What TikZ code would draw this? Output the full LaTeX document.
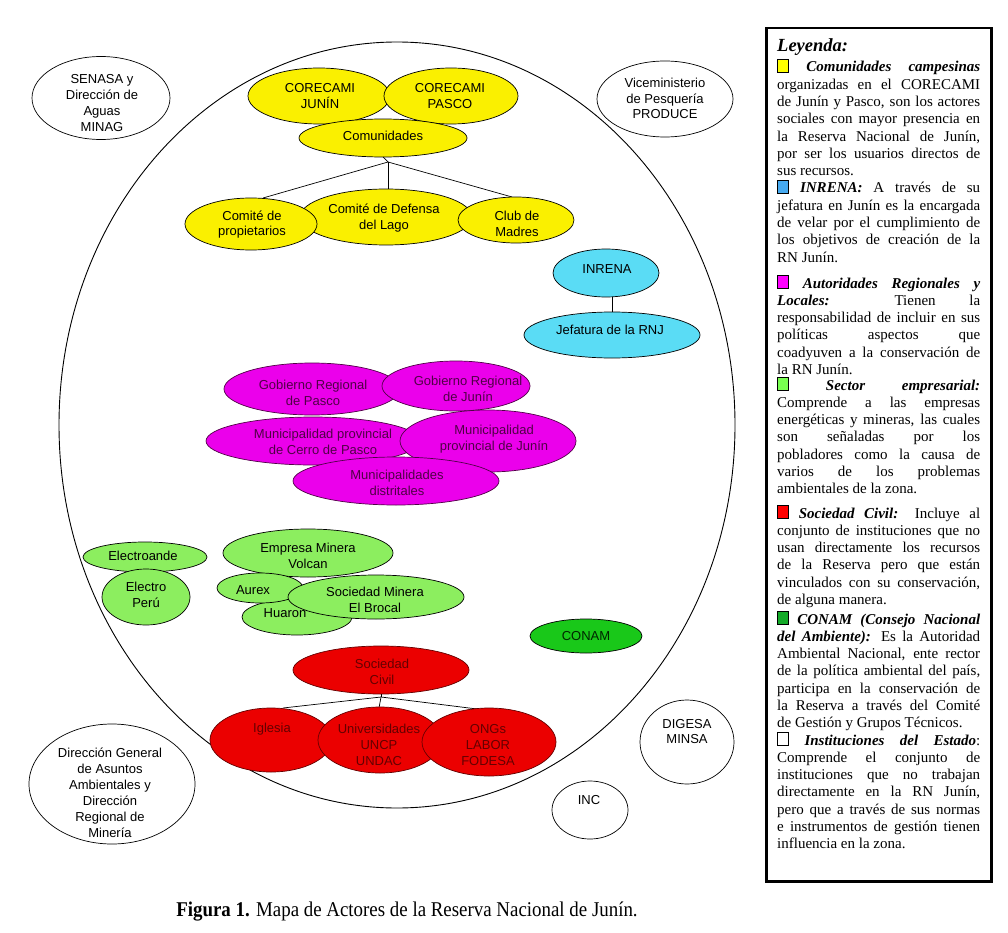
\documentclass[tikz,border=0pt]{standalone}
\usepackage{fontspec}
\setmainfont{Liberation Serif}
\newfontfamily\arialf{Liberation Sans}
\usetikzlibrary{shapes.geometric,calc}
\definecolor{yel}{RGB}{250,240,0}
\definecolor{cya}{RGB}{90,220,245}
\definecolor{mag}{RGB}{235,0,235}
\definecolor{lgr}{RGB}{140,238,95}
\definecolor{dgr}{RGB}{25,200,25}
\definecolor{rd}{RGB}{235,0,0}
\definecolor{magtxt}{RGB}{80,0,70}
\definecolor{redtxt}{RGB}{100,0,0}
\definecolor{lyel}{RGB}{255,255,0}
\definecolor{lblu}{RGB}{70,170,240}
\definecolor{lmag}{RGB}{255,0,255}
\definecolor{llg}{RGB}{120,255,80}
\definecolor{lred}{RGB}{255,0,0}
\definecolor{lgrn}{RGB}{20,170,40}
\newcommand\lsq[1]{\rlap{\color{black}\rule[-1pt]{12pt}{14pt}}\hspace{0.9pt}{\color{#1}\rule[-0.1pt]{10.2pt}{12.2pt}}\hspace{0.9pt}}
\tolerance=10000\relax
\hbadness=10000\relax
\begin{document}
\begin{tikzpicture}[x=1pt,y=-1pt,
  ell/.style={ellipse,draw=black,line width=0.7pt,inner sep=0pt,outer sep=0pt},
  sz/.style 2 args={minimum width=#1pt,minimum height=#2pt},
  wh/.style={ell,fill=white},
  yl/.style={ell,fill=yel},
  cy/.style={ell,fill=cya},
  mg/.style={ell,fill=mag,draw=magtxt},
  lg/.style={ell,fill=lgr},
  dg/.style={ell,fill=dgr},
  rdf/.style={ell,fill=rd,draw=redtxt},
  txt/.style={font=\arialf\fontsize{13}{15.8}\selectfont,align=center,inner sep=0pt},
  mtxt/.style={txt,text=magtxt},
  rtxt/.style={txt,text=redtxt},
  conn/.style={draw=black,line width=0.7pt},
  legp/.style={anchor=base west,inner sep=0pt,text width=203pt,align=justify,
    font=\fontsize{15}{17.3}\selectfont}]
\useasboundingbox (0,0) rectangle (1008,933);

% main area
\node[ell,line width=0.9pt,sz={676}{766}] (area) at (397,425) {};

% state institutions outside
\node[wh,sz={138}{83}] (senasa) at (101,98) {};
\node[wh,sz={136}{76}] (produce) at (665,99) {};
\node[wh,sz={166}{120}] (dgaa) at (112,784) {};
\node[wh,sz={94}{84}] (digesa) at (687,742) {};
\node[wh,sz={76}{58}] (inc) at (590,810) {};

% communities
\node[yl,sz={142}{56}] (cjunin) at (319,96) {};
\node[yl,sz={134}{56}] (cpasco) at (451,96) {};
\node[yl,sz={168}{38}] (comun) at (383,138) {};
\coordinate (capex) at ($(comun.south)+(5,5)$);
\draw[conn] (comun.south) -- (capex);
\node[yl,sz={172}{56}] (defensa) at (386,217) {};
\draw[conn] (capex) -- (capex |- defensa.north);
\draw[conn] (capex) -- ($(251,224)+(12,-26)$) coordinate (pn);
\draw[conn] (capex) -- ($(516,220)+(-4,-23)$) coordinate (cn);
\node[yl,sz={132}{52}] (propiet) at (251,224) {};
\node[yl,sz={116}{46}] (club) at (516,220) {};

% INRENA
\node[cy,sz={106}{48}] (inrena) at (606,273) {};
\node[cy,sz={176}{46}] (jefat) at (612,335) {};
\draw[conn] (jefat.north |- inrena.south) -- (jefat.north);

% regional authorities
\node[mg,sz={176}{52}] (gpasco) at (312,389) {};
\node[mg,sz={148}{50}] (gjunin) at (456,386) {};
\node[mg,sz={214}{48}] (mcerro) at (313,441) {};
\node[mg,sz={176}{62}] (mjunin) at (488,441) {};
\node[mg,sz={206}{48}] (mdist) at (396,481) {};

% business sector
\node[lg,sz={124}{30}] (eande) at (145,557) {};
\node[lg,sz={88}{56}] (eperu) at (146,597) {};
\node[lg,sz={170}{48}] (volcan) at (308,553) {};
\node[lg,sz={110}{36}] (huaron) at (297,617) {};
\node[lg,sz={86}{30}] (aurex) at (260,588) {};
\node[lg,sz={176}{44}] (brocal) at (376,597) {};
\node[dg,sz={112}{34}] (conam) at (586,636) {};

% civil society
\node[rdf,sz={176}{48}] (scivil) at (381,670) {};
\coordinate (sapex) at ($(scivil.south)+(0,3)$);
\draw[conn] (scivil.south) -- (sapex);
\draw[conn] (sapex) -- (283,708) coordinate (ign);
\draw[conn] (sapex) -- (379,708) coordinate (unn);
\draw[conn] (sapex) -- (477,709) coordinate (ogn);
\node[rdf,sz={122}{64}] (iglesia) at (271,740) {};
\node[rdf,sz={124}{66}] (univ) at (380,740) {};
\node[rdf,sz={134}{68}] (ongs) at (489,742) {};

% texts
\node[txt] (t-senasa) at (102,103) {SENASA y\\Dirección de\\Aguas\\MINAG};
\node[txt] (t-produce) at (665,98.5) {Viceministerio\\de Pesquería\\PRODUCE};
\node[txt,font=\arialf\fontsize{13}{16}\selectfont] (t-dgaa) at (110,793) {Dirección General\\de Asuntos\\Ambientales y\\Dirección\\Regional de\\Minería};
\node[txt] (t-digesa) at (687,731.5) {DIGESA\\MINSA};
\node[txt] (t-inc) at (589,800) {INC};
\node[txt] (t-cjunin) at (320,96) {CORECAMI\\JUNÍN};
\node[txt] (t-cpasco) at (450,96) {CORECAMI\\PASCO};
\node[txt] (t-comun) at (383,136) {Comunidades};
\node[txt] (t-defensa) at (384,218) {Comité de Defensa\\del Lago};
\node[txt] (t-propiet) at (252,224.5) {Comité de\\propietarios};
\node[txt] (t-club) at (517,223.5) {Club de\\Madres};
\node[txt] (t-inrena) at (607,269) {INRENA};
\node[txt] (t-jefat) at (610,330) {Jefatura de la RNJ};
\node[mtxt] (t-gpasco) at (313,392.5) {Gobierno Regional\\de Pasco};
\node[mtxt] (t-gjunin) at (468,389) {Gobierno Regional\\de Junín};
\node[mtxt] (t-mcerro) at (323,442) {Municipalidad provincial\\de Cerro de Pasco};
\node[mtxt] (t-mjunin) at (494,439.5) {Municipalidad\\provincial de Junín};
\node[mtxt] (t-mdist) at (397,482.5) {Municipalidades\\distritales};
\node[txt] (t-eande) at (143,556) {Electroande};
\node[txt] (t-eperu) at (146,594.5) {Electro\\Perú};
\node[txt] (t-volcan) at (308,556) {Empresa Minera\\Volcan};
\node[txt] (t-aurex) at (253,590) {Aurex};
\node[txt] (t-huaron) at (285,613) {Huaron};
\node[txt] (t-brocal) at (375,599.5) {Sociedad Minera\\El Brocal};
\node[txt,text=black!85!green] (t-conam) at (586,636) {CONAM};
\node[rtxt] (t-scivil) at (382,672) {Sociedad\\Civil};
\node[rtxt] (t-iglesia) at (272,729) {Iglesia};
\node[rtxt] (t-univ) at (379,745) {Universidades\\UNCP\\UNDAC};
\node[rtxt] (t-ongs) at (488,745) {ONGs\\LABOR\\FODESA};

% legend
\node[draw=black,line width=2.5pt,inner sep=0pt,minimum width=225pt,minimum height=853pt,anchor=north west] (legend) at (765,27) {};
\node[anchor=base west,inner sep=0pt,font=\fontsize{18.5}{20}\selectfont\bfseries\itshape] (leyenda) at (777,52) {Leyenda:};
\node[legp] (p1) at (777,72) {\lsq{lyel} \textbf{\textit{Comunidades campesinas}}\linebreak
organizadas en el CORECAMI\linebreak
de Junín y Pasco, son los actores\linebreak
sociales con mayor presencia en\linebreak
la Reserva Nacional de Junín,\linebreak
por ser los usuarios directos de\linebreak
sus recursos.};
\node[legp] (p2) at (777,193) {\lsq{lblu} \textbf{\textit{INRENA:}} A través de su\linebreak
jefatura en Junín es la encargada\linebreak
de velar por el cumplimiento de\linebreak
los objetivos de creación de la\linebreak
RN Junín.};
\node[legp] (p3) at (777,288) {\lsq{lmag} \textbf{\textit{Autoridades Regionales y}}\linebreak
\textbf{\textit{Locales:}} Tienen la\linebreak
responsabilidad de incluir en sus\linebreak
políticas aspectos que\linebreak
coadyuven a la conservación de\linebreak
la RN Junín.};
\node[legp] (p4) at (777,390) {\lsq{llg} \textbf{\textit{Sector empresarial:}}\linebreak
Comprende a las empresas\linebreak
energéticas y mineras, las cuales\linebreak
son señaladas por los\linebreak
pobladores como la causa de\linebreak
varios de los problemas\linebreak
ambientales de la zona.};
\node[legp] (p5) at (777,518) {\lsq{lred} \textbf{\textit{Sociedad Civil:}} Incluye al\linebreak
conjunto de instituciones que no\linebreak
usan directamente los recursos\linebreak
de la Reserva pero que están\linebreak
vinculados con su conservación,\linebreak
de alguna manera.};
\node[legp] (p6) at (777,624) {\lsq{lgrn} \textbf{\textit{CONAM (Consejo Nacional}}\linebreak
\textbf{\textit{del Ambiente):}} Es la Autoridad\linebreak
Ambiental Nacional, ente rector\linebreak
de la política ambiental del país,\linebreak
participa en la conservación de\linebreak
la Reserva a través del Comité\linebreak
de Gestión y Grupos Técnicos.};
\node[legp] (p7) at (777,745) {\lsq{white} \textbf{\textit{Instituciones del Estado}}:\linebreak
Comprende el conjunto de\linebreak
instituciones que no trabajan\linebreak
directamente en la RN Junín,\linebreak
pero que a través de sus normas\linebreak
e instrumentos de gestión tienen\linebreak
influencia en la zona.};

% caption
\node[anchor=base,inner sep=0pt,font=\fontsize{21}{24}\selectfont] (caption) at (407,916) {\scalebox{0.9}[1]{\textbf{Figura 1.} Mapa de Actores de la Reserva Nacional de Junín.}};
\end{tikzpicture}
\end{document}
